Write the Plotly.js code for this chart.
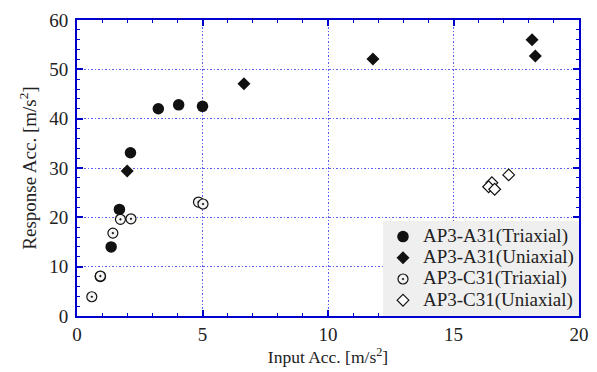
<!DOCTYPE html>
<html>
<head>
<meta charset="utf-8">
<script src="https://cdn.plot.ly/plotly-3.0.1.min.js"></script>
<style>html,body{margin:0;padding:0;background:#fff;}#chart{width:597px;height:372px;}</style>
</head>
<body>
<div id="chart"></div>
<script>
const seriesNames = ["AP3-A31(Triaxial)", "AP3-A31(Uniaxial)", "AP3-C31(Triaxial)", "AP3-C31(Uniaxial)"];
const a31TriX = [3.24, 4.05, 5.0, 2.13, 1.69, 1.36, 0.93];
const a31TriY = [42.0, 42.8, 42.5, 33.1, 21.6, 14.0, 8.0];
const a31UniX = [2.0, 6.65, 11.79, 18.13, 18.26];
const a31UniY = [29.4, 47.1, 52.1, 56.0, 52.7];
const c31TriX = [0.59, 0.93, 1.43, 1.73, 2.15, 4.84, 5.02];
const c31TriY = [3.9, 8.1, 16.8, 19.6, 19.7, 23.1, 22.7];
const c31UniX = [16.53, 16.40, 16.64, 17.2];
const c31UniY = [27.0, 26.2, 25.7, 28.6];

const axisBlue = '#0000cc';
const gridBlue = '#5c5cf0';
const family = 'Liberation Serif, Times New Roman, serif';
const tickFont = {family: family, size: 19, color: '#222'};
const xTitleFont = {family: family, size: 17.5, color: '#222'};
const yTitleFont = {family: family, size: 19, color: '#222'};
const legendFont = {family: family, size: 14, color: '#222'};
const legendName = n => '<span style="font-size:19px">' + n + '</span>';

const traces = [
  {x: a31TriX, y: a31TriY, name: legendName(seriesNames[0]), mode: 'markers', type: 'scatter',
   marker: {symbol: 'circle', size: 11.5, color: '#111', line: {width: 0}}},
  {x: a31UniX, y: a31UniY, name: legendName(seriesNames[1]), mode: 'markers', type: 'scatter',
   marker: {symbol: 'diamond', size: 10, color: '#111', line: {width: 0}}},
  {x: c31TriX, y: c31TriY, name: legendName(seriesNames[2]), mode: 'markers', type: 'scatter',
   marker: {symbol: 'circle-dot', size: 10, color: '#f4f4f4', line: {width: 1.2, color: '#111'}}},
  {x: c31UniX, y: c31UniY, name: legendName(seriesNames[3]), mode: 'markers', type: 'scatter',
   marker: {symbol: 'diamond', size: 9, color: '#ffffff', line: {width: 1.2, color: '#111'}}}
];

const axisCommon = {
  showline: true, linecolor: axisBlue, linewidth: 2, mirror: 'ticks',
  ticks: 'inside', ticklen: 6, tickwidth: 2, tickcolor: axisBlue,
  showgrid: true, gridcolor: gridBlue, griddash: '1.5px,2px', gridwidth: 1,
  zeroline: false, tickfont: tickFont
};

const layout = {
  width: 597, height: 372,
  margin: {l: 77, r: 18, t: 20, b: 56},
  paper_bgcolor: '#fff', plot_bgcolor: '#fff',
  font: tickFont,
  showlegend: true,
  xaxis: Object.assign({}, axisCommon, {
    range: [0, 20], dtick: 5, tick0: 0,
    minor: {dtick: 1, ticklen: 3, tickwidth: 1, tickcolor: axisBlue, ticks: 'inside', showgrid: false},
    title: {text: 'Input Acc. [m/s<sup>2</sup>]', font: xTitleFont, standoff: 4}
  }),
  yaxis: Object.assign({}, axisCommon, {
    range: [0, 60], dtick: 10, tick0: 0, ticklabelstandoff: 3,
    minor: {dtick: 2, ticklen: 3, tickwidth: 1, tickcolor: axisBlue, ticks: 'inside', showgrid: false},
    title: {text: 'Response Acc. [m/s<sup>2</sup>]', font: yTitleFont, standoff: 8}
  }),
  legend: {
    x: 1, y: 0, xanchor: 'right', yanchor: 'bottom',
    bgcolor: '#efefef', borderwidth: 0,
    font: legendFont, itemwidth: 30, tracegroupgap: 0
  }
};

Plotly.newPlot('chart', traces, layout, {displayModeBar: false, staticPlot: true});
</script>
</body>
</html>
